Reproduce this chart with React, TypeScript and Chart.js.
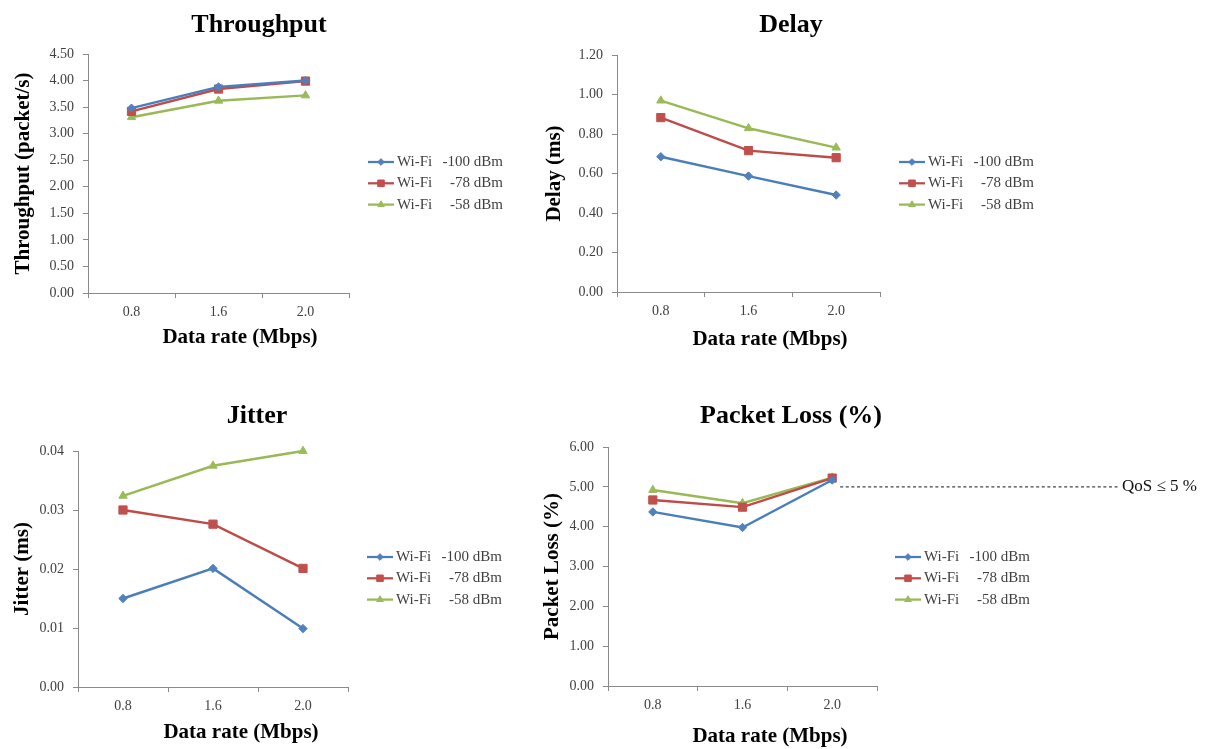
import React, { useEffect, useRef } from "react";
import { Chart, registerables } from "chart.js";
import { drawPoint } from "chart.js/helpers";

Chart.register(...registerables);

// ---------- data ----------
const categories = ["0.8", "1.6", "2.0"];
const seriesLabels = ["Wi-Fi -100 dBm", "Wi-Fi -78 dBm", "Wi-Fi -58 dBm"];

const throughputM100 = [3.48, 3.88, 4.0];
const throughputM78 = [3.42, 3.84, 3.99];
const throughputM58 = [3.31, 3.62, 3.72];

const delayM100 = [0.685, 0.587, 0.491];
const delayM78 = [0.883, 0.716, 0.68];
const delayM58 = [0.969, 0.829, 0.731];

const jitterM100 = [0.015, 0.0201, 0.0099];
const jitterM78 = [0.03, 0.0276, 0.0201];
const jitterM58 = [0.0324, 0.0375, 0.04];

const lossM100 = [4.37, 3.98, 5.17];
const lossM78 = [4.67, 4.49, 5.22];
const lossM58 = [4.92, 4.59, 5.23];

const qosLimit = 5;
const qosLabel = "QoS \u2264 5 %";

const xAxisTitle = "Data rate (Mbps)";
const panelTitles = ["Throughput", "Delay", "Jitter", "Packet Loss (%)"];
const yAxisTitles = ["Throughput (packet/s)", "Delay (ms)", "Jitter (ms)", "Packet Loss (%)"];
const yMaxValues = [4.5, 1.2, 0.04, 6];
const yStepValues = [0.5, 0.2, 0.01, 1];

const panelSeries = [
  [throughputM100, throughputM78, throughputM58],
  [delayM100, delayM78, delayM58],
  [jitterM100, jitterM78, jitterM58],
  [lossM100, lossM78, lossM58],
];

// ---------- styles / layout ----------
const W = 1215;
const H = 749;
const FONT = '"Liberation Serif", "Times New Roman", serif';
const AXIS_COLOR = "#8a8a8a";
const TEXT_GRAY = "#3f3f3f";

const seriesStyles = [
  { line: "#4A7EBB", fill: "#4F81BD", point: "rectRot", radius: 4.2 },
  { line: "#BE4B48", fill: "#C0504D", point: "rect", radius: 5.8 },
  { line: "#98B954", fill: "#9BBB59", point: "triangle", radius: 4.8 },
];

const panelLayouts = [
  { l: 88, r: 349, t: 54, b: 293, yTitleX: 24, titleX: 259, titleY: 32, xTitleX: 240, xTitleY: 343, legX: 368, legY: 162 },
  { l: 617, r: 880, t: 55, b: 292, yTitleX: 555, titleX: 791, titleY: 32, xTitleX: 770, xTitleY: 345, legX: 899, legY: 162 },
  { l: 78, r: 348, t: 451, b: 687, yTitleX: 23, titleX: 257, titleY: 423, xTitleX: 241, xTitleY: 738, legX: 367, legY: 557 },
  { l: 608, r: 877, t: 447, b: 686, yTitleX: 553, titleX: 791, titleY: 423, xTitleX: 770, xTitleY: 742, legX: 895, legY: 557 },
];

const decorPlugin = {
  id: "panelDecor",
  afterDraw(chart: any, _args: any, opts: any) {
    const ctx = chart.ctx;
    ctx.save();
    // title
    ctx.fillStyle = "#000";
    ctx.textAlign = "center";
    ctx.textBaseline = "alphabetic";
    ctx.font = `bold 26px ${FONT}`;
    ctx.fillText(opts.title, opts.titleX, opts.titleY);
    // x-axis title
    ctx.font = `bold 21px ${FONT}`;
    ctx.fillText(opts.xTitle, opts.xTitleX, opts.xTitleY);
    // legend
    const gap = 21.3;
    chart.data.datasets.forEach((ds: any, i: number) => {
      const x = opts.legX;
      const y = opts.legY + i * gap;
      ctx.strokeStyle = ds.borderColor;
      ctx.lineWidth = 2.25;
      ctx.beginPath();
      ctx.moveTo(x, y);
      ctx.lineTo(x + 26, y);
      ctx.stroke();
      ctx.fillStyle = ds.pointBackgroundColor;
      ctx.strokeStyle = ds.pointBorderColor;
      ctx.lineWidth = 1;
      drawPoint(ctx, { pointStyle: ds.pointStyle, radius: ds.pointRadius * 0.8, borderWidth: 1, rotation: 0 }, x + 13, y);
      const label: string = ds.label;
      const sp = label.indexOf(" ");
      ctx.fillStyle = TEXT_GRAY;
      ctx.font = `15px ${FONT}`;
      ctx.textBaseline = "middle";
      ctx.textAlign = "left";
      ctx.fillText(label.slice(0, sp), x + 29, y);
      ctx.textAlign = "right";
      ctx.fillText(label.slice(sp + 1), x + 29 + 106, y);
    });
    // QoS threshold
    if (opts.qos) {
      const ys = chart.scales.y.getPixelForValue(qosLimit);
      const x0 = chart.scales.x.getPixelForValue(categories.length - 1) + 8;
      const x1 = 1120;
      ctx.strokeStyle = "#444";
      ctx.lineWidth = 1.2;
      ctx.setLineDash([3, 2.6]);
      ctx.beginPath();
      ctx.moveTo(x0, ys);
      ctx.lineTo(x1, ys);
      ctx.stroke();
      ctx.setLineDash([]);
      ctx.fillStyle = "#111";
      ctx.font = `17px ${FONT}`;
      ctx.textAlign = "left";
      ctx.textBaseline = "middle";
      ctx.fillText(qosLabel, x1 + 2, ys);
    }
    ctx.restore();
  },
};

function makeConfig(idx: number): any {
  const L = panelLayouts[idx];
  const yW = L.l - L.yTitleX + 12.6;
  const xH = 40;
  return {
    type: "line",
    data: {
      labels: categories,
      datasets: panelSeries[idx].map((vals, i) => ({
        label: seriesLabels[i],
        data: vals,
        borderColor: seriesStyles[i].line,
        backgroundColor: seriesStyles[i].fill,
        pointBackgroundColor: seriesStyles[i].fill,
        pointBorderColor: seriesStyles[i].fill,
        pointStyle: seriesStyles[i].point,
        pointRadius: seriesStyles[i].radius,
        pointBorderWidth: 1,
        borderWidth: 2.4,
        tension: 0,
        fill: false,
        clip: false,
      })),
    },
    options: {
      responsive: false,
      animation: false,
      devicePixelRatio: 1,
      events: [],
      layout: {
        padding: { left: L.l - yW, right: W - L.r, top: L.t, bottom: H - L.b - xH },
      },
      plugins: {
        legend: { display: false },
        tooltip: { enabled: false },
        title: { display: false },
        panelDecor: {
          title: panelTitles[idx],
          titleX: L.titleX,
          titleY: L.titleY,
          xTitle: xAxisTitle,
          xTitleX: L.xTitleX,
          xTitleY: L.xTitleY,
          legX: L.legX,
          legY: L.legY,
          qos: idx === 3,
        },
      },
      scales: {
        x: {
          type: "category",
          offset: true,
          afterFit: (s: any) => { s.height = xH; },
          grid: { offset: true, drawOnChartArea: false, drawTicks: true, tickLength: 5, color: AXIS_COLOR },
          border: { display: true, color: AXIS_COLOR, width: 1 },
          ticks: { padding: 6, maxRotation: 0, color: TEXT_GRAY, font: { family: FONT, size: 14 } },
        },
        y: {
          type: "linear",
          min: 0,
          max: yMaxValues[idx],
          afterFit: (s: any) => { s.width = yW; },
          grid: { drawOnChartArea: false, drawTicks: true, tickLength: 5, color: AXIS_COLOR },
          border: { display: true, color: AXIS_COLOR, width: 1 },
          ticks: {
            stepSize: yStepValues[idx],
            padding: 9,
            color: TEXT_GRAY,
            font: { family: FONT, size: 14 },
            callback: (v: any) => Number(v).toFixed(2),
          },
          title: {
            display: true,
            text: yAxisTitles[idx],
            color: "#000",
            padding: { top: 0, bottom: 0 },
            font: { family: FONT, size: 21, weight: "bold" },
          },
        },
      },
    },
    plugins: [decorPlugin],
  };
}

export default function App() {
  const r0 = useRef<HTMLCanvasElement>(null);
  const r1 = useRef<HTMLCanvasElement>(null);
  const r2 = useRef<HTMLCanvasElement>(null);
  const r3 = useRef<HTMLCanvasElement>(null);

  useEffect(() => {
    const refs = [r0, r1, r2, r3];
    const charts = refs.map((r, i) => new Chart(r.current as HTMLCanvasElement, makeConfig(i)));
    return () => charts.forEach((c) => c.destroy());
  }, []);

  const cs: React.CSSProperties = { position: "absolute", left: 0, top: 0, width: W, height: H };
  return (
    <div style={{ position: "absolute", left: 0, top: 0, width: W, height: H, background: "#fff", overflow: "hidden" }}>
      <canvas ref={r0} width={W} height={H} style={cs} />
      <canvas ref={r1} width={W} height={H} style={cs} />
      <canvas ref={r2} width={W} height={H} style={cs} />
      <canvas ref={r3} width={W} height={H} style={cs} />
    </div>
  );
}
